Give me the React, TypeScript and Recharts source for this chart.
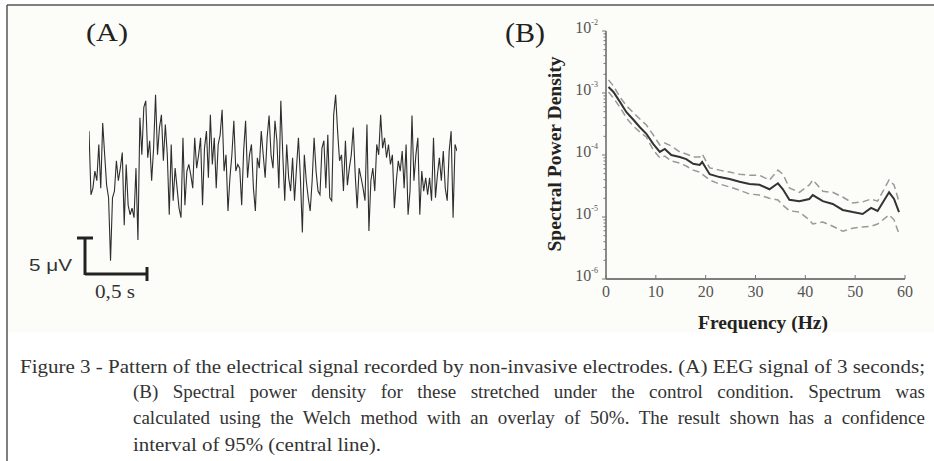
import React from 'react';
import { LineChart, Line, XAxis, YAxis } from 'recharts';

// (A) EEG trace, microvolts, ~3 s read left to right
const eegSignal = [
  5.9, -2.7, -1.8, 0.5, -0.8, 4.1, -1.8, 7.0, 2.7, -1.4, -3.1, -11.6, -3.1, -2.2, 1.9, -0.8, 0.9, 3.0, -6.8, 1.4,
  -4.1, -5.4, -4.5, -5.8, 0.9, -8.8, 7.7, 2.7, 9.1, 10.0, 2.3, 4.6, -0.8, 3.6, 10.8, 2.7, 6.4, 8.1, 1.9, 6.8,
  2.7, -5.4, 4.1, -3.5, 0.9, -1.8, -4.5, -5.8, 5.0, -4.1,
  0.5, 1.4, 0, -1.8, 5.0, 0.9, 2.7, 5.0, -4.1, 3.6, 5.9, -0.4, 8.1, 1.4, 5.0, -1.8, 4.1, 5.4, 8.8, 0.5,
  2.7, -4.9, -0.4, 2.7, 7.3, 0.5, 1.4, 0.9, -4.1, 3.2, 7.3, -0.4, 2.7, 4.1, -1.8, -4.9, 2.3, 0.9, 5.9, 2.7,
  -0.4, 5.0, 8.0, 2.7, 0.9,
  7.3, 4.6, -1.8, 10.0, 2.7, -3.5, 4.1, -0.4, -2.2, 2.3, -3.5, 0.9, 5.0, -0.4, -7.8, 2.7, -0.8, -3.1, -4.9, -0.8,
  5.0, 0.5, -2.2, -2.7, 3.6, 4.6, -1.8, 5.4, -3.1, -3.5, 8.1, 10.8, 5.9, 1.9, 2.7, -2.2, 4.6, -1.4, 0.9, 2.7,
  6.4, 0, -4.5, 0.9, -0.4, -1.8,
  -3.5, 6.8, -7.6, -0.8, 0.9, -2.2, 4.1, 2.7, 8.1, 3.6, 5.0, 2.3, 4.1, 1.4, 2.7, -4.5, -0.8, 1.9, 0.5, 3.2,
  -1.8, 4.1, -5.4, -2.2, 8.0, -0.8, 2.7, 5.0, -5.4, 0.5, -2.2, -0.4, -2.7, -0.4, -3.5, 5.0, -3.1, 0, 2.3, -0.8,
  3.2, -1.8, -3.5, 3.2, 5.9, -5.8, 4.1, 3.2,
];

// (B) spectral power density
const freqHz = [
  0.5, 1.5, 2.8, 4.1, 5.5, 6.8, 8.1, 9.5, 10.8, 11.8, 13.1, 14.8, 16.1, 17.5, 18.8, 19.3, 20.8, 22.8, 24.8, 26.8,
  28.8, 30.8, 32.8, 34.5, 35.5, 36.8, 38.8, 40.8, 41.5, 43.5, 45.5, 47.5, 49.5, 51.5, 53.2, 54.5, 56.8, 57.8, 58.8,
];
const psdMean = [
  1.25e-3, 1.04e-3, 7.2e-4, 4.9e-4, 3.7e-4, 2.8e-4, 2.2e-4, 1.5e-4, 1.12e-4, 1.25e-4, 1.0e-4, 9.3e-5, 8.6e-5,
  7.2e-5, 6.9e-5, 7.7e-5, 4.9e-5, 4.4e-5, 4.1e-5, 3.7e-5, 3.4e-5, 3.3e-5, 2.8e-5, 3.5e-5, 2.8e-5, 1.9e-5,
  1.8e-5, 1.95e-5, 2.26e-5, 1.8e-5, 1.62e-5, 1.3e-5, 1.2e-5, 1.12e-5, 1.4e-5, 1.25e-5, 2.5e-5, 1.95e-5, 1.2e-5,
];
const psdUpper = [
  1.62e-3, 1.3e-3, 8.6e-4, 6.2e-4, 4.8e-4, 3.8e-4, 3.05e-4, 2.1e-4, 1.45e-4, 1.56e-4, 1.4e-4, 1.12e-4, 1.04e-4,
  9.3e-5, 9.3e-5, 1.04e-4, 6.2e-5, 5.7e-5, 5.3e-5, 4.9e-5, 4.7e-5, 4.7e-5, 3.95e-5, 5.7e-5, 4.9e-5, 2.95e-5,
  2.5e-5, 3.3e-5, 3.95e-5, 2.6e-5, 2.5e-5, 2.1e-5, 1.68e-5, 1.75e-5, 1.95e-5, 1.8e-5, 3.95e-5, 3.3e-5, 1.75e-5,
];
const psdLower = [
  1.04e-3, 8.3e-4, 5.9e-4, 3.95e-4, 2.9e-4, 2.35e-4, 1.95e-4, 1.2e-4, 9e-5, 9.6e-5, 8e-5, 7.4e-5, 6.65e-5,
  5.7e-5, 5.3e-5, 4.9e-5, 3.95e-5, 3.4e-5, 3.05e-5, 2.7e-5, 2.35e-5, 2.26e-5, 2.0e-5, 1.88e-5, 1.55e-5, 1.26e-5,
  1.2e-5, 9e-6, 7.7e-6, 8.3e-6, 7.1e-6, 5.9e-6, 6.6e-6, 6.9e-6, 7.1e-6, 7.7e-6, 1.08e-5, 9e-6, 5.3e-6,
];

const freqTicks = [0, 10, 20, 30, 40, 50, 60];
const psdDecades = [1e-6, 1e-5, 1e-4, 1e-3, 1e-2];
const decadeExp = ['-6', '-5', '-4', '-3', '-2'];
const minorSteps = [2, 3, 4, 5, 6, 7, 8, 9];

const captionLines = [
  'Figure 3 - Pattern of the electrical signal recorded by non-invasive electrodes. (A) EEG signal of 3 seconds;',
  '(B) Spectral power density for these stretched under the control condition. Spectrum was',
  'calculated using the Welch method with an overlay of 50%. The result shown has a confidence',
  'interval of 95% (central line).',
];

const eegData = eegSignal.map((v, i) => ({ i, v }));
const psdData = freqHz.map((f, k) => ({ f, mean: psdMean[k], upper: psdUpper[k], lower: psdLower[k] }));
const psdTicks = psdDecades.flatMap((d, k) =>
  k < psdDecades.length - 1 ? [d, ...minorSteps.map((m) => m * d)] : [d]
);

const SERIF = '"Liberation Serif", "Times New Roman", serif';
const SANS = '"Liberation Sans", Arial, sans-serif';

function PsdTick(props: any) {
  const { x, y, payload } = props;
  const k = psdDecades.indexOf(payload.value);
  const major = k >= 0;
  return (
    <g>
      <line x1={x - (major ? 4 : 2.5)} x2={x} y1={y} y2={y} stroke="#777" strokeWidth={1} />
      {major && (
        <text x={x - 8} y={y + 2} textAnchor="end" fontFamily={SERIF} fontSize={16} fill="#555">
          10
          <tspan dy={-8} fontSize={8}>
            {decadeExp[k]}
          </tspan>
        </text>
      )}
    </g>
  );
}

function FreqTick(props: any) {
  const { x, y, payload } = props;
  return (
    <g>
      <line x1={x} x2={x} y1={y - 4} y2={y} stroke="#777" strokeWidth={1} />
      <text x={x} y={y + 18} textAnchor="middle" fontFamily={SERIF} fontSize={16} fill="#555">
        {payload.value}
      </text>
    </g>
  );
}

const justified: React.CSSProperties = {
  position: 'absolute',
  left: 133,
  width: 792,
  fontFamily: SERIF,
  fontSize: 19,
  lineHeight: '26px',
  color: '#333',
  textAlign: 'justify',
  textAlignLast: 'justify',
};

export default function App() {
  return (
    <div style={{ position: 'absolute', left: 0, top: 0, width: 934, height: 461, background: '#fff', overflow: 'hidden' }}>
      <svg width={934} height={461} style={{ position: 'absolute', left: 0, top: 0 }}>
        <rect x={8} y={6} width={926} height={326} fill="#fcfcf8" />
        <line x1={7} y1={5} x2={934} y2={5} stroke="#555" strokeWidth={1.5} />
        <line x1={7} y1={5} x2={7} y2={461} stroke="#555" strokeWidth={1.5} />

        <text x={86} y={41} fontFamily={SERIF} fontSize={25} fill="#222" textLength={42} lengthAdjust="spacingAndGlyphs">
          (A)
        </text>
        <text x={505} y={42} fontFamily={SERIF} fontSize={27} fill="#222" textLength={40} lengthAdjust="spacingAndGlyphs">
          (B)
        </text>

        {/* scale bar */}
        <g stroke="#222" strokeWidth={3} fill="none">
          <line x1={77} y1={238} x2={93} y2={238} />
          <line x1={85} y1={238} x2={85} y2={275} />
          <line x1={85} y1={274} x2={148} y2={274} />
          <line x1={147} y1={267} x2={147} y2={281} />
        </g>
        <text x={29} y={271} fontFamily={SANS} fontSize={17} fill="#333" textLength={43} lengthAdjust="spacingAndGlyphs">
          5 μV
        </text>
        <text x={95} y={298} fontFamily={SERIF} fontSize={18} fill="#333" textLength={40} lengthAdjust="spacingAndGlyphs">
          0,5 s
        </text>

        <text
          transform="translate(561,154) rotate(-90)"
          textAnchor="middle"
          fontFamily={SERIF}
          fontWeight="bold"
          fontSize={18}
          fill="#222"
          textLength={195}
          lengthAdjust="spacingAndGlyphs"
        >
          Spectral Power Density
        </text>
        <text x={763} y={329} textAnchor="middle" fontFamily={SERIF} fontWeight="bold" fontSize={19} fill="#222" textLength={130} lengthAdjust="spacingAndGlyphs">
          Frequency (Hz)
        </text>

        <g fontFamily={SERIF} fontSize={19} fill="#333">
          <text x={20} y={373} textLength={905} lengthAdjust="spacingAndGlyphs">{captionLines[0]}</text>
          <text x={133} y={451} textLength={248} lengthAdjust="spacingAndGlyphs">{captionLines[3]}</text>
        </g>
      </svg>

      <div style={{ ...justified, top: 379 }}>{captionLines[1]}</div>
      <div style={{ ...justified, top: 405 }}>{captionLines[2]}</div>

      <div style={{ position: 'absolute', left: 89, top: 86 }}>
        <LineChart width={368} height={185} data={eegData} margin={{ top: 0, right: 0, bottom: 0, left: 0 }}>
          <XAxis dataKey="i" type="number" domain={['dataMin', 'dataMax']} hide />
          <YAxis type="number" domain={[-13, 12]} hide allowDataOverflow />
          <Line type="linear" dataKey="v" stroke="#2e2e2e" strokeWidth={1.1} dot={false} isAnimationActive={false} />
        </LineChart>
      </div>

      <div style={{ position: 'absolute', left: 480, top: 0 }}>
        <LineChart width={454} height={340} data={psdData} margin={{ top: 31, right: 29, bottom: 0, left: 0 }}>
          <XAxis
            dataKey="f"
            type="number"
            domain={[0, 60]}
            ticks={freqTicks}
            interval={0}
            height={61}
            tickSize={0}
            tickMargin={0}
            tickLine={false}
            axisLine={{ stroke: '#555', strokeWidth: 1.5 }}
            tick={<FreqTick />}
          />
          <YAxis
            type="number"
            scale="log"
            domain={[1e-6, 1e-2]}
            allowDataOverflow
            ticks={psdTicks}
            interval={0}
            width={126}
            tickSize={0}
            tickMargin={0}
            tickLine={false}
            axisLine={{ stroke: '#666', strokeWidth: 1.5 }}
            tick={<PsdTick />}
          />
          <Line type="linear" dataKey="upper" stroke="#999" strokeWidth={1.5} strokeDasharray="7 4" dot={false} isAnimationActive={false} />
          <Line type="linear" dataKey="lower" stroke="#999" strokeWidth={1.5} strokeDasharray="7 4" dot={false} isAnimationActive={false} />
          <Line type="linear" dataKey="mean" stroke="#333" strokeWidth={2} dot={false} isAnimationActive={false} />
        </LineChart>
      </div>
    </div>
  );
}
